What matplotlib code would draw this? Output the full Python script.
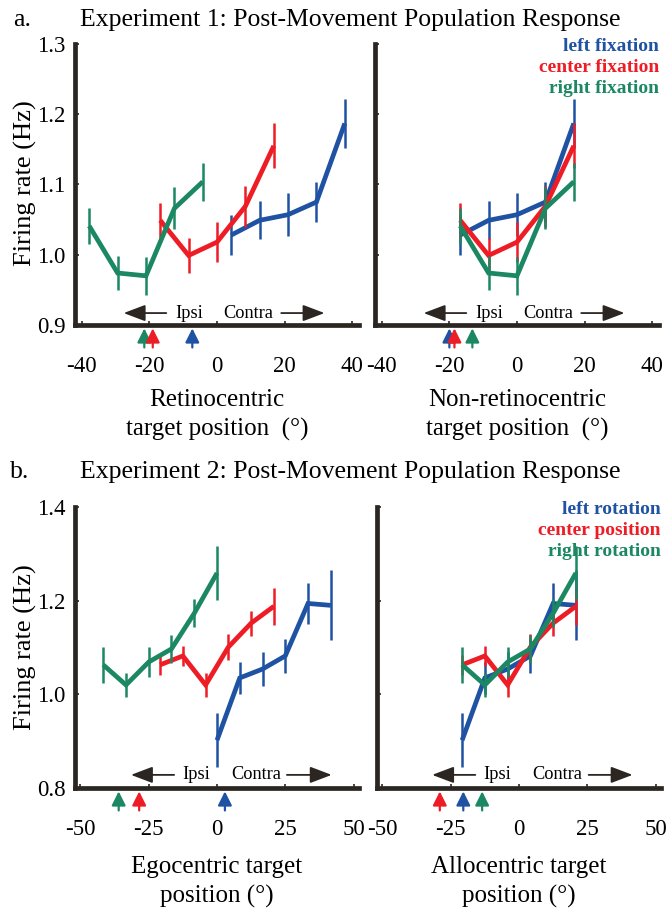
import matplotlib
matplotlib.use("Agg")
import matplotlib.pyplot as plt

plt.rcParams['font.family'] = ['Liberation Serif', 'DejaVu Serif']
plt.rcParams['axes.unicode_minus'] = False

BLUE = '#1f52a3'
RED = '#ee1c25'
GREEN = '#1b8763'
AXC = '#2b2622'

# ---- Experiment 1 (fixation) ----
ret_x_left = [4.2, 12.6, 21.0, 29.4, 37.8]
ret_x_center = [-16.8, -8.4, 0.0, 8.4, 16.8]
ret_x_right = [-37.8, -29.4, -21.0, -12.6, -4.2]
nonret_x = [-16.8, -8.4, 0.0, 8.4, 16.8]
fix_left = [1.028, 1.049, 1.057, 1.075, 1.187]
fix_left_err = [0.028, 0.027, 0.031, 0.028, 0.035]
fix_center = [1.049, 0.999, 1.018, 1.069, 1.155]
fix_center_err = [0.025, 0.025, 0.029, 0.029, 0.032]
fix_right = [1.041, 0.974, 0.970, 1.066, 1.104]
fix_right_err = [0.025, 0.024, 0.027, 0.030, 0.027]
ret_marks = {'right': -21.5, 'center': -19.0, 'left': -7.3}
nonret_marks = {'left': -20.0, 'center': -18.5, 'right': -13.2}

# ---- Experiment 2 (rotation) ----
ego_x_left = [0.0, 8.33, 16.67, 25.0, 33.33, 41.67]
ego_x_center = [-20.83, -12.5, -4.17, 4.17, 12.5, 20.83]
ego_x_right = [-41.67, -33.33, -25.0, -16.67, -8.33, 0.0]
allo_x = [-20.83, -12.5, -4.17, 4.17, 12.5, 20.83]
rot_left = [0.902, 1.035, 1.054, 1.082, 1.194, 1.190]
rot_left_err = [0.058, 0.034, 0.036, 0.036, 0.044, 0.075]
rot_center = [1.063, 1.082, 1.020, 1.101, 1.152, 1.188]
rot_center_err = [0.021, 0.021, 0.025, 0.027, 0.027, 0.039]
rot_right = [1.063, 1.020, 1.069, 1.097, 1.173, 1.259]
rot_right_err = [0.038, 0.026, 0.032, 0.030, 0.030, 0.058]
ego_marks = {'right': -36.0, 'center': -28.5, 'left': 2.9}
allo_marks = {'center': -29.0, 'left': -20.4, 'right': -13.5}

colors = {'left': BLUE, 'center': RED, 'right': GREEN}

W, H = 667, 911
fig = plt.figure(figsize=(W / 100, H / 100), dpi=100)


def rect(x0, x1, ytop, ybot):
    return [x0 / W, (H - ybot) / H, (x1 - x0) / W, (ybot - ytop) / H]


def style_axes(ax, xlim, ylim, xticks, yticks, show_ylabels):
    ax.set_xlim(*xlim)
    ax.set_ylim(*ylim)
    for s in ('top', 'right'):
        ax.spines[s].set_visible(False)
    for s in ('left', 'bottom'):
        ax.spines[s].set_linewidth(3.4)
        ax.spines[s].set_color(AXC)
        ax.spines[s].set_capstyle('projecting')
    ax.set_xticks(xticks)
    ax.set_xticklabels([str(t) for t in xticks])
    ax.set_yticks(yticks)
    if show_ylabels:
        ax.set_yticklabels([f'{t:.1f}' for t in yticks])
    else:
        ax.set_yticklabels([])
    ax.tick_params(axis='x', direction='in', length=3, width=1.2, color=AXC,
                   pad=22, labelsize=16.5)
    ax.tick_params(axis='y', direction='in', length=3, width=1.2, color=AXC,
                   pad=7, labelsize=16.5)
    ax.patch.set_alpha(0)


def draw_series(ax, x, y, e, c):
    ax.vlines(x, [v - d for v, d in zip(y, e)], [v + d for v, d in zip(y, e)],
              colors=c, lw=1.8, zorder=3)
    ax.plot(x, y, color=c, lw=3.4, solid_joinstyle='miter',
            solid_capstyle='butt', zorder=3)


def ipsi_contra(ax, y, lt, le, ic, cc, rs, rt):
    ap = dict(arrowstyle='-|>,head_length=0.95,head_width=0.36', color=AXC,
              lw=1.3, shrinkA=0, shrinkB=0, mutation_scale=14)
    ax.annotate('', xy=(lt, y), xytext=(le, y), arrowprops=ap)
    ax.annotate('', xy=(rt, y), xytext=(rs, y), arrowprops=ap)
    ax.text(ic, y, 'Ipsi', ha='center', va='center', fontsize=13.2, color='black')
    ax.text(cc, y, 'Contra', ha='center', va='center', fontsize=13.2, color='black')


def mark_arrows(ax, marks):
    for key, xv in marks.items():
        ax.annotate('', xy=(xv, -0.012), xytext=(xv, -0.08),
                    xycoords=('data', 'axes fraction'),
                    textcoords=('data', 'axes fraction'),
                    arrowprops=dict(arrowstyle='-|>,head_length=0.7,head_width=0.35',
                                    color=colors[key], lw=1.6, shrinkA=0, shrinkB=0,
                                    mutation_scale=12),
                    annotation_clip=False)


def legend_text(ax, labels):
    ys = [0.99, 0.915, 0.84]
    for (lab, key), yy in zip(labels, ys):
        ax.text(1.0, yy, lab, transform=ax.transAxes, ha='right', va='center',
                fontsize=14, fontweight='bold', color=colors[key])


# ---------------- Panel a ----------------
ax1 = fig.add_axes(rect(75, 359, 44, 325))
ax2 = fig.add_axes(rect(375, 659, 44, 325))
for ax, show in ((ax1, True), (ax2, False)):
    style_axes(ax, (-42, 42), (0.9, 1.3), [-40, -20, 0, 20, 40],
               [0.9, 1.0, 1.1, 1.2, 1.3], show)

draw_series(ax1, ret_x_left, fix_left, fix_left_err, BLUE)
draw_series(ax1, ret_x_center, fix_center, fix_center_err, RED)
draw_series(ax1, ret_x_right, fix_right, fix_right_err, GREEN)
draw_series(ax2, nonret_x, fix_left, fix_left_err, BLUE)
draw_series(ax2, nonret_x, fix_center, fix_center_err, RED)
draw_series(ax2, nonret_x, fix_right, fix_right_err, GREEN)

for ax in (ax1, ax2):
    ipsi_contra(ax, 0.917, -27.6, -15.0, -8.3, 9.3, 19.0, 31.8)
mark_arrows(ax1, ret_marks)
mark_arrows(ax2, nonret_marks)

ax1.text(0.5, -0.32, 'Retinocentric\ntarget position  (°)', transform=ax1.transAxes,
         ha='center', va='center', fontsize=18, linespacing=1.38)
ax2.text(0.5, -0.32, 'Non-retinocentric\ntarget position  (°)', transform=ax2.transAxes,
         ha='center', va='center', fontsize=18, linespacing=1.38)
ax1.text(-0.175, 0.505, 'Firing rate (Hz)', transform=ax1.transAxes, rotation=90,
         ha='center', va='center', fontsize=19)
legend_text(ax2, [('left fixation', 'left'), ('center fixation', 'center'),
                  ('right fixation', 'right')])

fig.text(350 / W, 1 - 20 / H, 'Experiment 1: Post-Movement Population Response',
         ha='center', va='center', fontsize=18.5)
fig.text(22 / W, 1 - 20 / H, 'a.', ha='center', va='center', fontsize=18.5)

# ---------------- Panel b ----------------
ax3 = fig.add_axes(rect(75, 359, 507, 788))
ax4 = fig.add_axes(rect(377, 661, 507, 788))
for ax, show in ((ax3, True), (ax4, False)):
    style_axes(ax, (-52, 52), (0.8, 1.4), [-50, -25, 0, 25, 50],
               [0.8, 1.0, 1.2, 1.4], show)

draw_series(ax3, ego_x_left, rot_left, rot_left_err, BLUE)
draw_series(ax3, ego_x_center, rot_center, rot_center_err, RED)
draw_series(ax3, ego_x_right, rot_right, rot_right_err, GREEN)
draw_series(ax4, allo_x, rot_left, rot_left_err, BLUE)
draw_series(ax4, allo_x, rot_center, rot_center_err, RED)
draw_series(ax4, allo_x, rot_right, rot_right_err, GREEN)

ipsi_contra(ax3, 0.828, -31.5, -15.7, -7.7, 14.2, 25.6, 42.0)
ipsi_contra(ax4, 0.828, -31.8, -16.0, -8.0, 13.9, 25.5, 41.6)
mark_arrows(ax3, ego_marks)
mark_arrows(ax4, allo_marks)

ax3.text(0.5, -0.335, 'Egocentric target\nposition (°)', transform=ax3.transAxes,
         ha='center', va='center', fontsize=18, linespacing=1.4)
ax4.text(0.5, -0.335, 'Allocentric target\nposition (°)', transform=ax4.transAxes,
         ha='center', va='center', fontsize=18, linespacing=1.4)
ax3.text(-0.175, 0.5, 'Firing rate (Hz)', transform=ax3.transAxes, rotation=90,
         ha='center', va='center', fontsize=19)
legend_text(ax4, [('left rotation', 'left'), ('center position', 'center'),
                  ('right rotation', 'right')])

fig.text(350 / W, 1 - 472 / H, 'Experiment 2: Post-Movement Population Response',
         ha='center', va='center', fontsize=18.5)
fig.text(20 / W, 1 - 472 / H, 'b.', ha='center', va='center', fontsize=18.5)

fig.savefig('out.png', dpi=100, facecolor='white')
